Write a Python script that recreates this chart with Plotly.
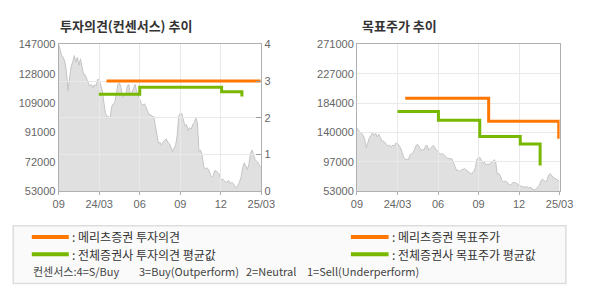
import numpy as np
import plotly.graph_objects as go

# ---------------- data ----------------
x_labels = ["09", "24/03", "06", "09", "12", "25/03"]

# daily close (KRW), evenly spaced over the period shown
price_k = [147.0, 144.0, 139.8, 138.8, 135.7, 129.6, 117.3, 125.5, 132.7, 135.7,
           139.8, 135.7, 138.8, 133.7, 137.8, 132.7, 127.6, 127.6, 124.5, 122.4,
           120.3, 121.4, 119.3, 121.4, 120.3, 124.5, 124.5, 121.4, 117.3, 110.0,
           102.9, 100.9, 100.9, 99.9, 107.0, 109.0, 110.0, 115.3, 121.4, 122.4,
           119.3, 113.2, 115.3, 114.3, 120.3, 121.4, 114.3, 116.3, 119.3, 121.4,
           117.3, 114.3, 111.1, 109.0, 108.0, 109.0, 107.0, 105.0, 102.0, 102.0,
           100.9, 100.9, 94.8, 89.7, 83.5, 84.5, 82.5, 84.5, 85.6, 86.6,
           84.5, 83.5, 81.4, 78.4, 80.5, 82.5, 88.6, 100.9, 102.9, 102.9,
           98.8, 94.8, 95.8, 91.7, 93.7, 92.7, 95.8, 96.8, 99.9, 96.8,
           78.4, 79.4, 76.3, 69.1, 67.1, 68.1, 67.1, 65.0, 62.0, 63.0,
           66.1, 66.1, 65.0, 64.0, 60.0, 61.0, 60.0, 58.9, 58.9, 60.0,
           57.9, 58.9, 57.9, 55.9, 54.8, 56.9, 58.9, 62.0, 68.1, 71.2,
           69.1, 67.1, 70.2, 77.3, 79.4, 76.3, 73.3, 72.2, 71.2, 69.1, 68.1]
price = [v * 1000 for v in price_k]

# investment opinion (consensus scale 0-4)
op_mer_x = [1.18, 4.98]
op_mer_y = [3.0, 3.0]
op_avg_x = [0.99, 2.0, 4.02, 4.52]
op_avg_y = [2.64, 2.83, 2.71, 2.58]

# target price (KRW)
tp_mer_x = [1.19, 3.25, 4.98]
tp_mer_y = [191000, 157000, 131000]
tp_avg_x = [1.0, 2.01, 3.03, 4.03, 4.52]
tp_avg_y = [171500, 158600, 134400, 123000, 91100]

left_tickvals = [53000, 71800, 90600, 109400, 128200, 147000]
left_ticktext = ["53000", "72000", "91000", "109000", "128000", "147000"]
right_tickvals = [53000, 96600, 140200, 183800, 227400, 271000]
right_ticktext = ["53000", "97000", "140000", "184000", "227000", "271000"]

# ---------------- styling ----------------
W, H = 590, 300
ORANGE = "#ff7600"
GREEN = "#78b800"
FILL = "#e0e0e0"
AREA_LINE = "#c4c4c4"
GRID = "#e9e9e9"
AXLINE = "#b0b0b0"
TICKC = "#666666"
NUMFONT = "Liberation Sans, Arial, sans-serif"
KRFONT = "Noto Sans CJK KR, sans-serif"

def px(xp):
    return xp / W

def py(yp):
    return 1 - yp / H

domL = [px(54.5), px(264.3)]
domR = [px(363.3), px(573.0)]
domY = [py(193), py(40)]

x_idx = np.linspace(0, 5, len(price))

fig = go.Figure()
fig.add_trace(go.Scatter(x=x_idx, y=price, xaxis="x", yaxis="y", mode="lines",
                         fill="tozeroy", fillcolor=FILL,
                         line=dict(color=AREA_LINE, width=1), hoverinfo="skip"))
fig.add_trace(go.Scatter(x=op_mer_x, y=op_mer_y, xaxis="x2", yaxis="y2", mode="lines",
                         line=dict(color=ORANGE, width=3, shape="hv"), hoverinfo="skip"))
fig.add_trace(go.Scatter(x=op_avg_x, y=op_avg_y, xaxis="x2", yaxis="y2", mode="lines",
                         line=dict(color=GREEN, width=3, shape="hv"), hoverinfo="skip"))
fig.add_trace(go.Scatter(x=x_idx, y=price, xaxis="x3", yaxis="y3", mode="lines",
                         fill="tozeroy", fillcolor=FILL,
                         line=dict(color=AREA_LINE, width=1), hoverinfo="skip"))
fig.add_trace(go.Scatter(x=tp_mer_x, y=tp_mer_y, xaxis="x4", yaxis="y4", mode="lines",
                         line=dict(color=ORANGE, width=3, shape="hv"), hoverinfo="skip"))
fig.add_trace(go.Scatter(x=tp_avg_x, y=tp_avg_y, xaxis="x4", yaxis="y4", mode="lines",
                         line=dict(color=GREEN, width=3, shape="hv"), hoverinfo="skip"))

tickfont = dict(family=NUMFONT, size=11, color=TICKC)
xlab = dict(range=[0, 5], tickmode="array", tickvals=list(range(len(x_labels))),
            ticktext=x_labels, showgrid=True, gridcolor=GRID, gridwidth=1,
            showline=True, linecolor=AXLINE, linewidth=1, mirror=True,
            ticks="outside", ticklen=3, tickcolor=AXLINE, zeroline=False,
            tickfont=tickfont, fixedrange=True)

fig.update_layout(
    width=W, height=H, margin=dict(l=0, r=0, t=0, b=0),
    paper_bgcolor="white", plot_bgcolor="rgba(0,0,0,0)", showlegend=False,
    xaxis=dict(domain=domL, anchor="y", range=[0, 5], visible=False, fixedrange=True),
    yaxis=dict(domain=domY, anchor="x", range=[53000, 147000], tickmode="array",
               tickvals=left_tickvals, ticktext=left_ticktext, showgrid=False,
               showline=True, linecolor=AXLINE, zeroline=False, ticks="",
               tickfont=tickfont, fixedrange=True),
    xaxis2=dict(domain=domL, anchor="y2", **xlab),
    yaxis2=dict(domain=domY, anchor="x2", side="right", range=[0, 4], dtick=1,
                tick0=0, showgrid=True, gridcolor=GRID, showline=True,
                linecolor=AXLINE, mirror=True, ticks="inside", ticklen=5,
                tickcolor="#999999", zeroline=False, tickfont=tickfont,
                fixedrange=True),
    xaxis3=dict(domain=domR, anchor="y3", range=[0, 5], visible=False, fixedrange=True),
    yaxis3=dict(domain=domY, anchor="x3", range=[53000, 271000], visible=False,
                fixedrange=True),
    xaxis4=dict(domain=domR, anchor="y4", **xlab),
    yaxis4=dict(domain=domY, anchor="x4", range=[53000, 271000], tickmode="array",
                tickvals=right_tickvals, ticktext=right_ticktext, showgrid=True,
                gridcolor=GRID, showline=True, linecolor=AXLINE, mirror=True,
                ticks="", zeroline=False, tickfont=tickfont, fixedrange=True),
)

annotations = [
    dict(text="<b>투자의견(컨센서스) 추이</b>", x=px(54), y=py(20.5), xanchor="left",
         yanchor="middle", font=dict(family=KRFONT, size=13, color="#333333")),
    dict(text="<b>목표주가 추이</b>", x=px(366), y=py(20.5), xanchor="left",
         yanchor="middle", font=dict(family=KRFONT, size=13, color="#333333")),
]
legend_items = [
    (26.7, 65.0, 240.5, ORANGE, ": 메리츠증권 투자의견"),
    (26.7, 65.0, 258.5, GREEN, ": 전체증권사 투자의견 평균값"),
    (357.0, 396.0, 240.5, ORANGE, ": 메리츠증권 목표주가"),
    (357.0, 396.0, 258.5, GREEN, ": 전체증권사 목표주가 평균값"),
]
shapes = [dict(type="rect", xref="paper", yref="paper", x0=px(7.5), x1=px(579.5),
               y0=py(289), y1=py(229), fillcolor="#fafafa",
               line=dict(color="#dddddd", width=1.5), layer="below")]
for x0, x1, yy, col, label in legend_items:
    shapes.append(dict(type="line", xref="paper", yref="paper", x0=px(x0), x1=px(x1),
                       y0=py(yy), y1=py(yy), line=dict(color=col, width=4)))
    annotations.append(dict(text=label, x=px(x1 + 1), y=py(yy), xanchor="left",
                            yanchor="middle",
                            font=dict(family=KRFONT, size=12, color="#333333")))
cons = [(25.5, "컨센서스:4=S/Buy"), (135.5, "3=Buy(Outperform)"),
        (246.0, "2=Neutral"), (309.5, "1=Sell(Underperform)")]
for xx, t in cons:
    annotations.append(dict(text=t, x=px(xx), y=py(276.5), xanchor="left",
                            yanchor="middle",
                            font=dict(family=KRFONT, size=11, color="#444444")))
for a in annotations:
    a.update(xref="paper", yref="paper", showarrow=False)

fig.update_layout(annotations=annotations, shapes=shapes)
fig.write_html("out.html", config={"displayModeBar": False})
